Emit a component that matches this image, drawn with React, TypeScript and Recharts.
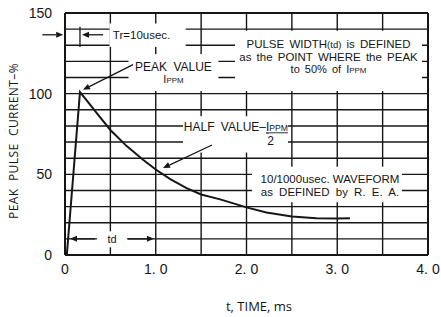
import { LineChart, Line, XAxis, YAxis, ReferenceLine } from 'recharts';

// 10/1000 usec pulse waveform
const timeMs = [0.02, 0.165, 0.25, 0.35, 0.5, 0.68, 0.86, 1.0, 1.16, 1.34, 1.5, 1.71, 2.0, 2.22, 2.5, 2.77, 3.0, 3.14];
const peakPct = [0, 101, 95, 88, 77.5, 67.5, 59, 53, 47, 41.5, 37.5, 34.5, 29.5, 26.3, 23.8, 22.8, 22.6, 22.8];

const xTicks = [0, 0.5, 1, 1.5, 2, 2.5, 3, 3.5, 4];
const xTickLabels = ['0', '', '1. 0', '', '2. 0', '', '3. 0', '', '4. 0'];
const yTicks = [0, 10, 20, 30, 40, 50, 60, 70, 80, 90, 100, 110, 120, 130, 140, 150];
const yLabelled = [0, 50, 100, 150];

const data = timeMs.map((t, i) => ({ t, pct: peakPct[i] }));

const INK = '#161616';
const SANS = '"Liberation Sans", Arial, sans-serif';
const TITLE = '"Open Sans", "Noto Sans", sans-serif';

// arrows drawn as reference segments, in chart units [t, %]
const arrows = [
  { from: [-0.25, 136.5], to: [-0.02, 136.5], head: true },
  { from: [0.165, 141.5], to: [0.165, 129], head: false },
  { from: [0.42, 136.5], to: [0.187, 136.5], head: true },
  { from: [0.75, 118], to: [0.198, 102.4], head: true },
  { from: [1.62, 68.2], to: [1.08, 53.9], head: true },
  { from: [0.33, 10], to: [0.055, 10], head: true },
  { from: [0.695, 10], to: [0.98, 10], head: true },
];

const arrowShape = (head: boolean) => (p: any) => {
  const { x1, y1, x2, y2 } = p;
  const a = Math.atan2(y2 - y1, x2 - x1);
  const L = 7;
  const W = 3;
  const bx = x2 - L * Math.cos(a);
  const by = y2 - L * Math.sin(a);
  const pts = `${x2},${y2} ${bx - W * Math.sin(a)},${by + W * Math.cos(a)} ${bx + W * Math.sin(a)},${by - W * Math.cos(a)}`;
  return (
    <g>
      <line x1={x1} y1={y1} x2={head ? bx : x2} y2={head ? by : y2} stroke={INK} strokeWidth={1.3} />
      {head && <polygon points={pts} fill={INK} />}
    </g>
  );
};

const Ippm = ({ size = 11.5 }: { size?: number }) => (
  <>
    <tspan fontSize={size}>I</tspan>
    <tspan fontSize={size * 0.72}>PPM</tspan>
  </>
);

// white boxes that cut the grid, each with its own text
const notes = [
  {
    x1: 0.49, x2: 1.33, y1: 129, y2: 143.5,
    text: (cx: number, cy: number) => (
      <text x={cx - 6} y={cy + 4} textAnchor="middle" fontSize={11.5}>Tr=10usec.</text>
    ),
  },
  {
    x1: 0.7, x2: 1.69, y1: 101.6, y2: 124.5,
    text: (cx: number, cy: number) => (
      <>
        <text x={cx} y={cy - 2} textAnchor="middle" fontSize={12} wordSpacing={3}>PEAK VALUE</text>
        <text x={cx} y={cy + 10} textAnchor="middle"><Ippm size={11} /></text>
      </>
    ),
  },
  {
    x1: 1.873, x2: 3.934, y1: 101.6, y2: 139,
    text: (cx: number, cy: number) => (
      <>
        <text x={cx} y={cy - 13} textAnchor="middle" fontSize={11.5} wordSpacing={2}>
          PULSE WIDTH<tspan fontSize={9.5}>(td)</tspan> is DEFINED
        </text>
        <text x={cx} y={cy} textAnchor="middle" fontSize={11.5} wordSpacing={2}>as the POINT WHERE the PEAK</text>
        <text x={cx} y={cy + 12} textAnchor="middle" fontSize={11} wordSpacing={2}>to 50% of <Ippm size={11} /></text>
      </>
    ),
  },
  {
    x1: 1.3, x2: 2.457, y1: 63.5, y2: 86,
    text: (cx: number, cy: number) => (
      <>
        <text x={cx + 0.5} y={cy - 3} textAnchor="middle" fontSize={12} wordSpacing={3}>
          HALF VALUE–<tspan textDecoration="underline"><Ippm size={12} /></tspan>
        </text>
        <text x={cx + 35} y={cy + 11} textAnchor="middle" fontSize={12}>2</text>
      </>
    ),
  },
  {
    x1: 2.06, x2: 3.713, y1: 32.7, y2: 54.7,
    text: (cx: number, cy: number) => (
      <>
        <text x={cx + 3} y={cy - 1} textAnchor="middle" fontSize={11.5}>10/1000usec. WAVEFORM</text>
        <text x={cx + 3} y={cy + 12} textAnchor="middle" fontSize={11.5} wordSpacing={3}>as DEFINED by R. E. A.</text>
      </>
    ),
  },
  {
    x1: 0.353, x2: 0.683, y1: 4.8, y2: 14.7,
    text: (cx: number, cy: number) => (
      <text x={cx} y={cy + 4} textAnchor="middle" fontSize={11}>td</text>
    ),
  },
];

// a note is a diagonal reference segment whose shape paints a white box + text
const noteShape = (text: (cx: number, cy: number) => any) => (p: any) => {
  const x = Math.min(p.x1, p.x2);
  const y = Math.min(p.y1, p.y2);
  const width = Math.abs(p.x2 - p.x1);
  const height = Math.abs(p.y2 - p.y1);
  return (
    <g fontFamily={SANS} fill={INK}>
      <rect x={x} y={y} width={width} height={height} fill="#ffffff" stroke="none" />
      {text(x + width / 2, y + height / 2)}
    </g>
  );
};

const isEdge = (v: number, lo: number, hi: number) => v === lo || v === hi;

export default function App() {
  return (
    <div style={{ position: 'absolute', left: 0, top: 0, background: '#fff' }}>
      <LineChart
        width={441}
        height={317}
        data={data}
        margin={{ top: 13, right: 13, bottom: 32, left: 0 }}
      >
        <XAxis
          dataKey="t"
          type="number"
          domain={[0, 4]}
          ticks={xTicks}
          tickFormatter={(v) => xTickLabels[xTicks.indexOf(v)] ?? ''}
          height={30}
          axisLine={{ stroke: INK, strokeWidth: 2 }}
          tickLine={false}
          tickSize={0}
          tickMargin={9}
          tick={{ fill: INK, fontSize: 14, fontFamily: SANS }}
          label={{
            content: () => (
              <text x={259} y={311} textAnchor="middle" fontSize={13} fontFamily={TITLE} fill={INK}>
                t, TIME, ms
              </text>
            ),
          }}
        />
        <YAxis
          type="number"
          domain={[0, 150]}
          ticks={yTicks}
          tickFormatter={(v) => (yLabelled.includes(v) ? `${v}` : '')}
          width={65}
          axisLine={{ stroke: INK, strokeWidth: 2 }}
          tickLine={false}
          tickSize={0}
          tickMargin={13}
          tick={{ fill: INK, fontSize: 14, fontFamily: SANS }}
          label={{
            content: () => (
              <text
                x={13}
                y={141}
                transform="rotate(-90 13 141)"
                textAnchor="middle"
                dominantBaseline="central"
                fontSize={12}
                fontFamily={TITLE}
                fill={INK}
                wordSpacing={4}
                letterSpacing={0.4}
              >
                PEAK PULSE CURRENT–%
              </text>
            ),
          }}
        />
        {/* grid drawn from the tick arrays */}
        {yTicks.map((v) => (
          <ReferenceLine
            key={`gy-${v}`}
            y={v}
            stroke={INK}
            strokeWidth={isEdge(v, 0, 150) ? 2 : 1.4}
            ifOverflow="visible"
          />
        ))}
        {xTicks.map((v) => (
          <ReferenceLine
            key={`gx-${v}`}
            x={v}
            stroke={INK}
            strokeWidth={isEdge(v, 0, 4) ? 2 : 1.4}
            ifOverflow="visible"
          />
        ))}
        {notes.map((n, i) => (
          <ReferenceLine
            key={`note-${i}`}
            segment={[{ x: n.x1, y: n.y2 }, { x: n.x2, y: n.y1 }]}
            ifOverflow="visible"
            shape={noteShape(n.text)}
          />
        ))}
        {arrows.map((a, i) => (
          <ReferenceLine
            key={`arrow-${i}`}
            segment={[{ x: a.from[0], y: a.from[1] }, { x: a.to[0], y: a.to[1] }]}
            ifOverflow="visible"
            shape={arrowShape(a.head)}
          />
        ))}
        <Line
          type="linear"
          dataKey="pct"
          stroke={INK}
          strokeWidth={2}
          dot={false}
          isAnimationActive={false}
        />
      </LineChart>
    </div>
  );
}
